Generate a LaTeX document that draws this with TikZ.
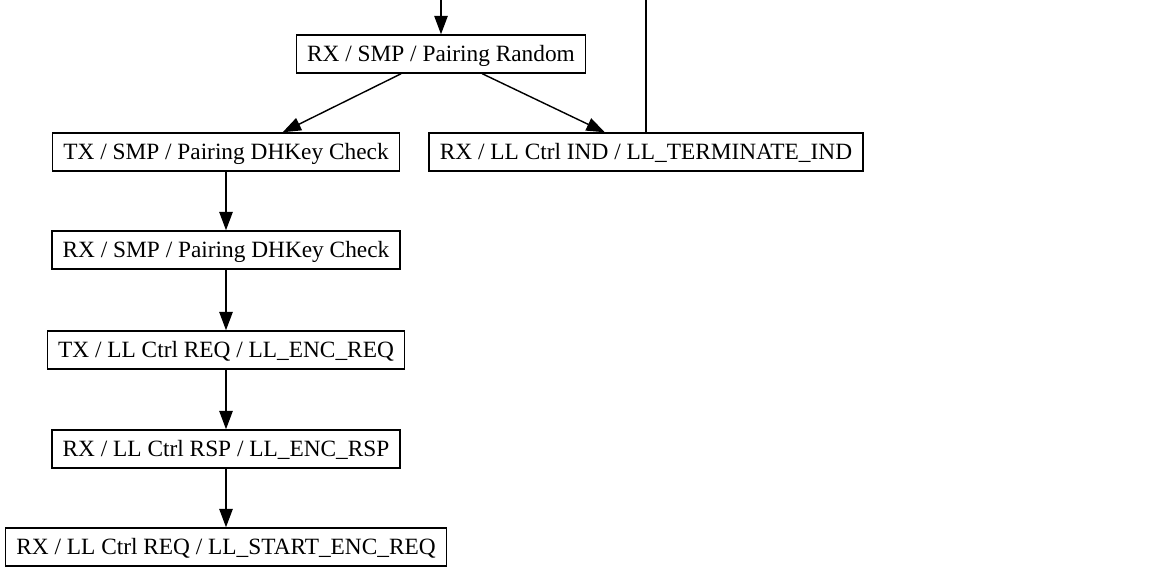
\documentclass[tikz,border=0pt]{standalone}
\usepackage{fontspec}
\setmainfont{Liberation Serif}
\usetikzlibrary{arrows.meta}

\tikzset{
  msg/.style={draw, line width=0.85pt, rectangle, inner xsep=6.5pt, inner ysep=0pt,
    text height=9.3pt, text depth=0pt,
    minimum height=22.8pt, font=\fontsize{14}{16}\selectfont},
  flow/.style={-{Triangle[length=11pt,width=8pt]}, line width=0.85pt},
}

\begin{document}
\begin{tikzpicture}[x=0.6pt, y=-0.6pt]

  \useasboundingbox (0,0) rectangle (1165,568);

  % Messages
  \node[msg] (rand)   at (441,54)  {RX / SMP / Pairing Random};
  \node[msg] (dhtx)   at (226,152) {TX / SMP / Pairing DHKey Check};
  \node[msg] (term)   at (646,152) {RX / LL Ctrl IND / LL\_TERMINATE\_IND};
  \node[msg] (dhrx)   at (226,250) {RX / SMP / Pairing DHKey Check};
  \node[msg] (encreq) at (226,350) {TX / LL Ctrl REQ / LL\_ENC\_REQ};
  \node[msg] (encrsp) at (226,449) {RX / LL Ctrl RSP / LL\_ENC\_RSP};
  \node[msg] (start)  at (226,547) {RX / LL Ctrl REQ / LL\_START\_ENC\_REQ};

  % Edges leaving the picture at the top
  \coordinate (randin) at (441,0);
  \coordinate (termout) at (646,0);
  \draw[flow] (randin) -- (rand);
  \draw[line width=0.85pt] (term.north) -- (termout);

  % Pairing Random branches
  \draw[flow] (rand) -- ([xshift=34pt]dhtx.north);
  \draw[flow] (rand) -- (term);

  % Encryption sequence
  \draw[flow] (dhtx) -- (dhrx);
  \draw[flow] (dhrx) -- (encreq);
  \draw[flow] (encreq) -- (encrsp);
  \draw[flow] (encrsp) -- (start);

\end{tikzpicture}
\end{document}
